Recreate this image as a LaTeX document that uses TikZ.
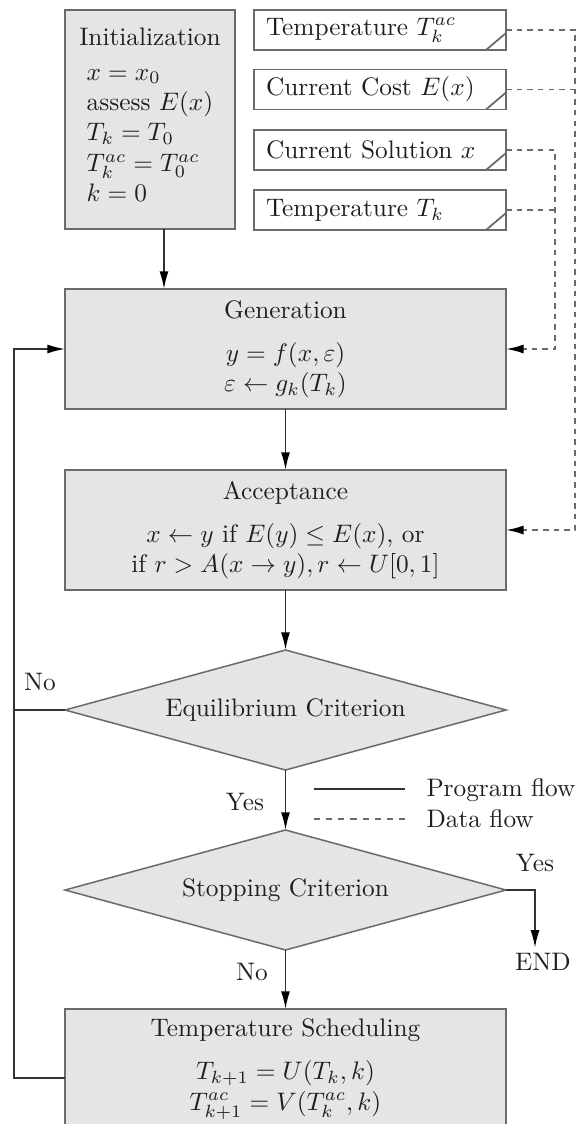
\documentclass[tikz,border=0pt]{standalone}
\usetikzlibrary{shapes.geometric,arrows.meta,calc}
\newdimen\pxu \pxu=0.395pt
\definecolor{boxfill}{gray}{0.9}
\definecolor{boxline}{gray}{0.42}
\definecolor{ink}{gray}{0.12}
\definecolor{flowline}{gray}{0.2}
\definecolor{dataline}{gray}{0.42}
\begin{document}
\begin{tikzpicture}[x=0.395pt,y=-0.395pt,
  every node/.style={text=ink},
  procbox/.style={draw=boxline, fill=boxfill, line width=0.7pt, inner sep=0pt, outer sep=0pt,
    minimum width=441\pxu, minimum height=120\pxu, align=center},
  decision/.style={diamond, draw=boxline, fill=boxfill, line width=0.6pt, inner sep=0pt, outer sep=0pt,
    aspect=3.67, minimum width=441\pxu, minimum height=120\pxu},
  store/.style={draw=boxline, fill=white, line width=0.7pt, outer sep=0pt,
    minimum height=40\pxu, text width=228\pxu, inner xsep=12\pxu, inner ysep=0pt, align=left},
  tip/.style={-{Latex[length=7pt,width=3.6pt,color=black]}},
  flow/.style={draw=flowline, line width=0.7pt},
  data/.style={draw=dataline, line width=0.75pt, dash pattern=on 2.2pt off 2pt},
  lbl/.style={inner sep=0pt}
]
\useasboundingbox (0,0) rectangle (578,1124);
\clip (0,0) rectangle (578,1124);

% initialization block
\node[procbox, minimum width=170\pxu, minimum height=219\pxu] (init) at (150,119.5)
  {Initialization\\[1.5pt]
   \begin{tabular}[t]{@{}l@{}}
   $x=x_0$\\
   assess $E(x)$\\
   $T_k=T_0$\\
   $T_k^{ac}=T_0^{ac}$\\
   $k=0$
   \end{tabular}};

% data stores
\node[store] (b1) at (380,30)   {Temperature $T_k^{ac}$};
\node[store] (b2) at (380,89.5) {Current Cost $E(x)$};
\node[store] (b3) at (380,150)  {Current Solution $x$};
\node[store] (b4) at (380,210)  {Temperature $T_k$};
\foreach \n in {b1,b2,b3,b4}
  \draw[boxline, line width=0.7pt] ($(\n.south east)+(-20,0)$) -- ($(\n.south east)+(0,-17)$);

% main program blocks
\node[procbox] (gen) at (285.5,349)
  {Generation\\[5pt] $y=f(x,\varepsilon)$\\ $\varepsilon\leftarrow g_k(T_k)$};
\node[procbox] (acc) at (285.5,530)
  {Acceptance\\[5pt] $x\leftarrow y$ if $E(y)\le E(x)$, or\\ if $r>A(x\rightarrow y), r\leftarrow U[0,1]$};
\node[decision] (eq) at (285.5,710) {Equilibrium Criterion};
\node[decision] (stop) at (285.5,890) {Stopping Criterion};
\node[procbox] (sched) at (285.5,1069)
  {Temperature Scheduling\\[5pt] $T_{k+1}=U(T_k,k)$\\ $T_{k+1}^{ac}=V(T_k^{ac},k)$};
\node[inner sep=2pt] (endn) at (543,962) {END};

% branch labels
\node[lbl] (no1) at (40,682) {No};
\node[lbl] (yes1) at (245,802) {Yes};
\node[lbl] (yes2) at (535,863) {Yes};
\node[lbl] (no2) at (252,972) {No};

% helper coordinates for routed connectors
\coordinate (ia) at (164,0);
\coordinate (lp) at (14,349);
\coordinate (ey) at (535,0);
\coordinate (railA) at (575,530);
\coordinate (railB) at (555,349);

% program flow
\draw[flow, tip] (init.south -| ia) -- (gen.north -| ia);
\draw[flow, tip] (gen.south) -- (acc.north);
\draw[flow, tip] (acc.south) -- (eq.north);
\draw[flow, tip] (eq.south) -- (stop.north);
\draw[flow, tip] (stop.south) -- (sched.north);
\draw[flow, tip] (stop.east) -| (ey |- endn.north);
\draw[flow, tip] ([yshift=-9\pxu]sched.west) -| (lp) -- (gen.west);
\draw[flow] (eq.west) -- (eq.west -| lp);

% data flow
\draw[data, tip] (b1.east) -| (railA) -- (acc.east);
\draw[data] (b2.east) -- (b2.east -| railA);
\draw[data, tip] (b3.east) -| (railB) -- (gen.east);
\draw[data] (b4.east) -- (b4.east -| railB);

% legend
\coordinate (lgA1) at (314,789);
\coordinate (lgA2) at (405,789);
\coordinate (lgB1) at (314,819);
\coordinate (lgB2) at (405,819);
\draw[flow] (lgA1) -- (lgA2);
\draw[data, dash pattern=on 2.4pt off 2.4pt] (lgB1) -- (lgB2);
\node[lbl, anchor=west] (lgA) at (426,790) {Program flow};
\node[lbl, anchor=west] (lgB) at (426,819) {Data flow};
\end{tikzpicture}
\end{document}
